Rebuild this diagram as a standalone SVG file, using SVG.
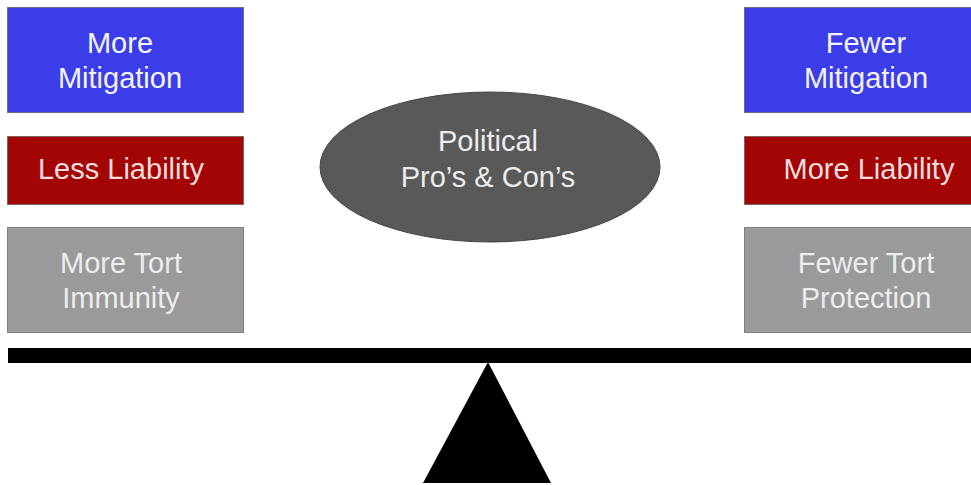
<svg xmlns="http://www.w3.org/2000/svg" width="971" height="485" viewBox="0 0 971 485">
<style>
.box{stroke:#4a4a4a;stroke-width:1;stroke-opacity:0.6}
.blue{fill:#3b3ee8}
.red{fill:#a30404}
.gray{fill:#9a9a9a}
.t{font-family:"Liberation Sans",Arial,sans-serif;font-size:29px;text-anchor:middle;fill:#f4f4f8}
.tr{fill:#f6dede}
.tg{fill:#ececec}
</style>
<rect width="971" height="485" fill="#ffffff"/>
<g id="more-mitigation">
<rect class="box blue" x="7.5" y="7.5" width="236" height="105"/>
<text class="t" x="120" y="53">More</text>
<text class="t" x="120" y="88">Mitigation</text>
</g>
<g id="less-liability">
<rect class="box red" x="7.5" y="136.5" width="236" height="68"/>
<text class="t tr" x="121" y="179">Less Liability</text>
</g>
<g id="more-tort-immunity">
<rect class="box gray" x="7.5" y="227.5" width="236" height="105"/>
<text class="t tg" x="121" y="273">More Tort</text>
<text class="t tg" x="121" y="308">Immunity</text>
</g>
<g id="political">
<ellipse cx="490" cy="167" rx="170" ry="75" fill="#595959" stroke="#444" stroke-width="1"/>
<text class="t tg" x="488" y="151">Political</text>
<text class="t tg" x="488" y="187">Pro’s &amp; Con’s</text>
</g>
<g id="fewer-mitigation">
<rect class="box blue" x="744.5" y="7.5" width="250" height="105"/>
<text class="t" x="866" y="53">Fewer</text>
<text class="t" x="866" y="88">Mitigation</text>
</g>
<g id="more-liability">
<rect class="box red" x="744.5" y="136.5" width="250" height="68"/>
<text class="t tr" x="869" y="179">More Liability</text>
</g>
<g id="fewer-tort-protection">
<rect class="box gray" x="744.5" y="227.5" width="250" height="105"/>
<text class="t tg" x="866" y="273">Fewer Tort</text>
<text class="t tg" x="866" y="308">Protection</text>
</g>
<g id="seesaw">
<rect x="8" y="348" width="963" height="15" fill="#000"/>
<polygon points="488,362 423,483 551,483" fill="#000"/>
</g>
</svg>
